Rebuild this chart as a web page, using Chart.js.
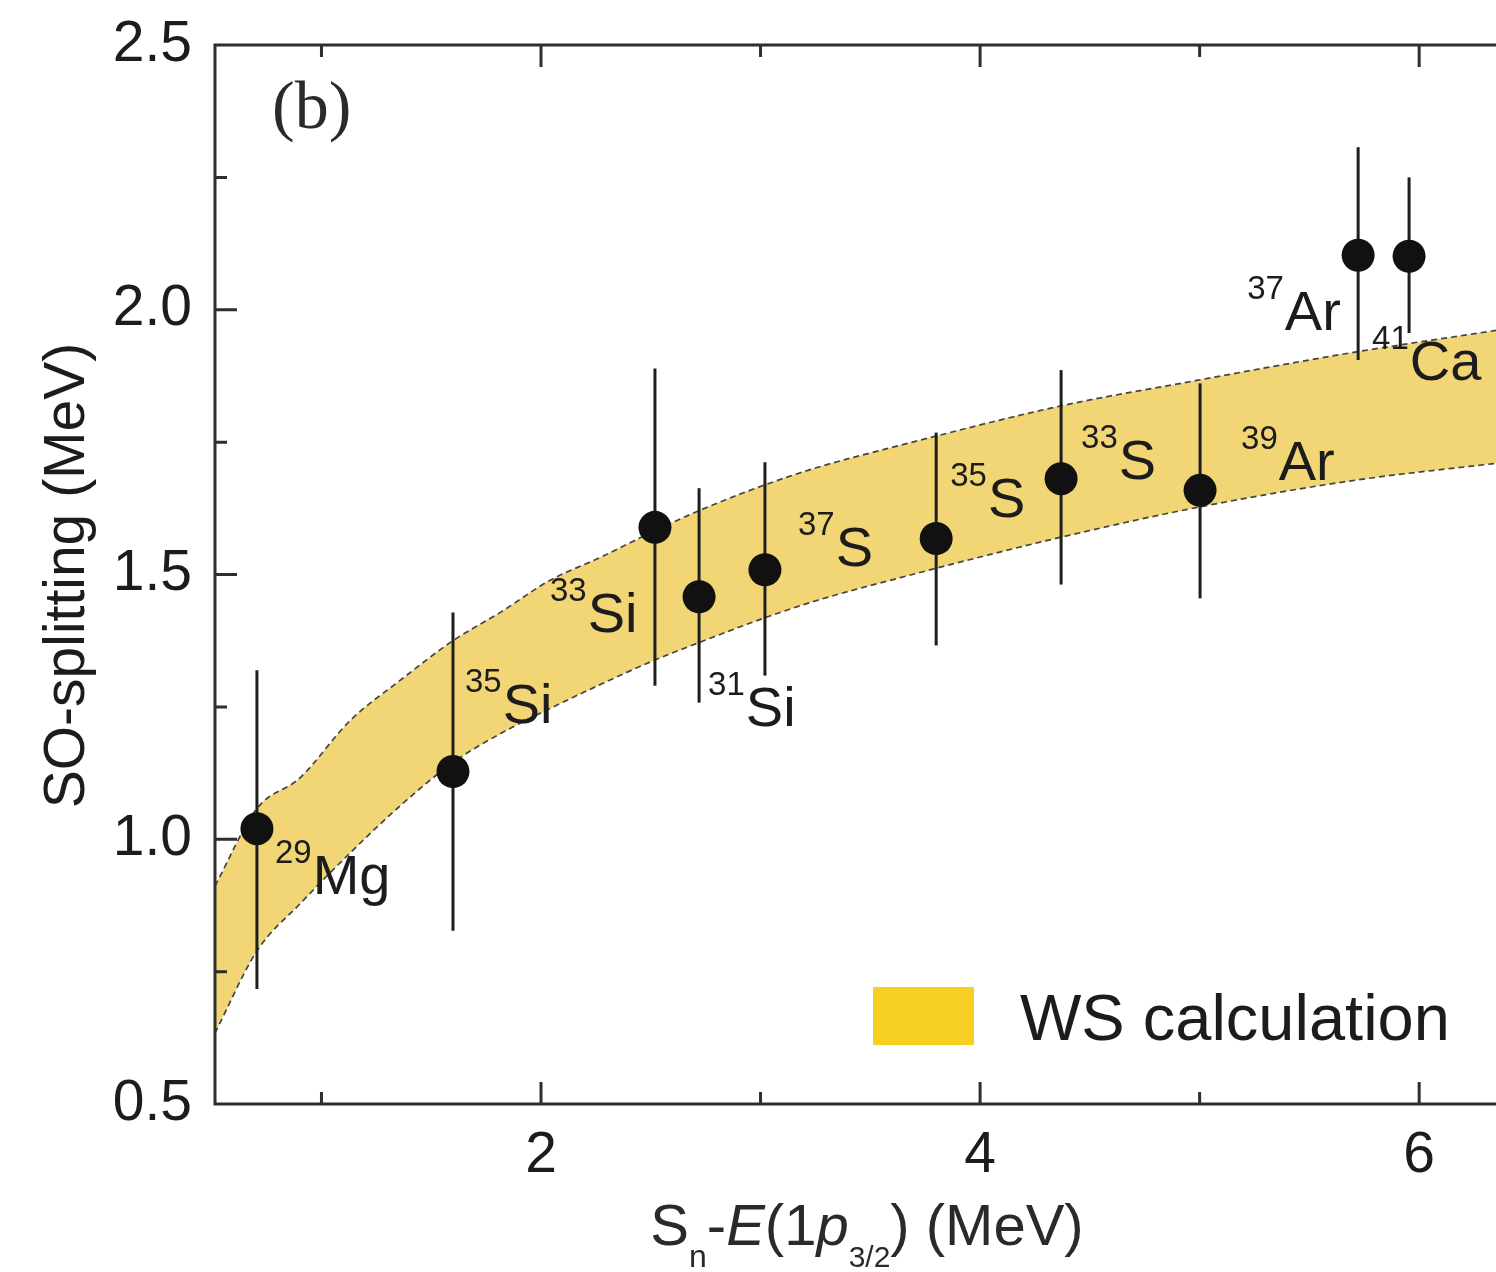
<!DOCTYPE html>
<html>
<head>
<meta charset="utf-8">
<script src="https://cdn.jsdelivr.net/npm/chart.js@4.4.1/dist/chart.umd.min.js"></script>
<style>
html,body{margin:0;padding:0;background:#ffffff;overflow:hidden;}
#wrap{width:1496px;height:1272px;position:relative;}
</style>
</head>
<body>
<div id="wrap"><canvas id="c" width="1496" height="1272"></canvas></div>
<script>
// ---------------- data ----------------
const isotopeMass    = ['29', '35', '33', '31', '37', '35', '33', '39', '37', '41'];
const isotopeElement = ['Mg', 'Si', 'Si', 'Si', 'S',  'S',  'S',  'Ar', 'Ar', 'Ca'];
const splitX   = [0.706, 1.599, 2.519, 2.720, 3.020, 3.800, 4.369, 5.002, 5.722, 5.954];
const splitY   = [1.020, 1.128, 1.589, 1.458, 1.509, 1.568, 1.681, 1.659, 2.103, 2.101];
const errLow   = [0.717, 0.827, 1.290, 1.258, 1.309, 1.366, 1.481, 1.455, 1.905, 1.956];
const errHigh  = [1.319, 1.428, 1.889, 1.663, 1.712, 1.768, 1.886, 1.861, 2.307, 2.250];

const wsX     = [0.515, 0.706, 0.902, 1.130, 1.358, 1.599, 1.813, 2.041, 2.269, 2.510, 2.711, 3.011, 3.257, 3.636, 4.364, 4.993, 5.708, 6.351];
const wsUpper = [0.912, 1.058, 1.116, 1.224, 1.300, 1.375, 1.428, 1.489, 1.532, 1.581, 1.619, 1.668, 1.702, 1.744, 1.818, 1.867, 1.920, 1.961];
const wsLower = [0.634, 0.789, 0.878, 0.974, 1.063, 1.145, 1.199, 1.247, 1.292, 1.337, 1.370, 1.417, 1.451, 1.494, 1.570, 1.627, 1.678, 1.710];

const xTickValues  = [2, 4, 6];
const xTickLabels  = ['2', '4', '6'];
const xMinorTicks  = [1, 3, 5];
const yTickValues  = [0.5, 1.0, 1.5, 2.0, 2.5];
const yTickLabels  = ['0.5', '1.0', '1.5', '2.0', '2.5'];
const yMinorTicks  = [0.75, 1.25, 1.75, 2.25];

const yTitle      = 'SO-splitting (MeV)';
const legendLabel = 'WS calculation';
const panelLabel  = '(b)';

// ---------------- layout / style (not data) ----------------
const FONT = '"Liberation Sans", Arial, Helvetica, sans-serif';
const SERIF = '"Liberation Serif", "Times New Roman", serif';
const TEXT = '#1c1c1c';
const AXIS = '#2e2e2e';
// label offsets (px) of superscript start / element baseline relative to point
const labelOffsets = [[18,65],[12,-48],[-105,105],[9,129],[33,-4],[14,-21],[20,0],[41,-10],[-111,75],[-37,124]];

const decorPlugin = {
  id: 'decor',
  beforeDatasetDraw(chart, args) {
    if (args.index !== 2) return;
    const {ctx, scales: {x, y}} = chart;
    ctx.save();
    ctx.strokeStyle = '#1e1e1e';
    ctx.lineWidth = 3;
    for (let i = 0; i < splitX.length; i++) {
      const px = x.getPixelForValue(splitX[i]);
      ctx.beginPath();
      ctx.moveTo(px, y.getPixelForValue(errHigh[i]));
      ctx.lineTo(px, y.getPixelForValue(errLow[i]));
      ctx.stroke();
    }
    ctx.restore();
  },
  afterDatasetsDraw(chart) {
    const {ctx, chartArea: ca, scales: {x, y}} = chart;
    ctx.save();
    // isotope labels
    ctx.fillStyle = TEXT;
    ctx.textBaseline = 'alphabetic';
    ctx.textAlign = 'left';
    for (let i = 0; i < splitX.length; i++) {
      const px = x.getPixelForValue(splitX[i]) + labelOffsets[i][0];
      const py = y.getPixelForValue(splitY[i]) + labelOffsets[i][1];
      ctx.font = '33px ' + FONT;
      ctx.fillText(isotopeMass[i], px, py - 31);
      const w = ctx.measureText(isotopeMass[i]).width;
      ctx.font = '56px ' + FONT;
      ctx.fillText(isotopeElement[i], px + w + 1, py);
    }
    // axes frame
    ctx.strokeStyle = AXIS;
    ctx.lineWidth = 3;
    ctx.beginPath();
    ctx.moveTo(ca.left, ca.top); ctx.lineTo(ca.right + 5, ca.top);
    ctx.moveTo(ca.left, ca.top - 1.5); ctx.lineTo(ca.left, ca.bottom + 1.5);
    ctx.moveTo(ca.left, ca.bottom); ctx.lineTo(ca.right + 5, ca.bottom);
    // x ticks (bottom and top, inward)
    xTickValues.forEach(v => { const p = x.getPixelForValue(v);
      ctx.moveTo(p, ca.bottom); ctx.lineTo(p, ca.bottom - 22);
      ctx.moveTo(p, ca.top); ctx.lineTo(p, ca.top + 22); });
    xMinorTicks.forEach(v => { const p = x.getPixelForValue(v);
      ctx.moveTo(p, ca.bottom); ctx.lineTo(p, ca.bottom - 12);
      ctx.moveTo(p, ca.top); ctx.lineTo(p, ca.top + 12); });
    yTickValues.forEach(v => { const p = y.getPixelForValue(v);
      ctx.moveTo(ca.left, p); ctx.lineTo(ca.left + 22, p); });
    yMinorTicks.forEach(v => { const p = y.getPixelForValue(v);
      ctx.moveTo(ca.left, p); ctx.lineTo(ca.left + 12, p); });
    ctx.stroke();

    // legend
    ctx.fillStyle = '#F7CE22';
    ctx.fillRect(ca.left + 658, ca.top + 942, 101, 58);
    ctx.fillStyle = TEXT;
    ctx.font = '65px ' + FONT;
    ctx.fillText(legendLabel, ca.left + 805, ca.top + 995);

    // panel label
    ctx.font = '68px ' + SERIF;
    ctx.fillStyle = '#2a2a2a';
    ctx.fillText(panelLabel, ca.left + 57, ca.top + 83);

    // y title
    ctx.save();
    ctx.translate(84, (ca.top + ca.bottom) / 2 + 1);
    ctx.rotate(-Math.PI / 2);
    ctx.textAlign = 'center';
    ctx.font = '57px ' + FONT;
    ctx.fillStyle = TEXT;
    ctx.fillText(yTitle, 0, 0);
    ctx.restore();

    // x title with sub/italics
    const parts = [
      {t: 'S', f: '58px ' + FONT, dy: 0},
      {t: 'n', f: '32px ' + FONT, dy: 22},
      {t: '-', f: '58px ' + FONT, dy: 0},
      {t: 'E', f: 'italic 58px ' + FONT, dy: 0},
      {t: '(1', f: '58px ' + FONT, dy: 0},
      {t: 'p', f: 'italic 58px ' + FONT, dy: 0},
      {t: '3/2', f: '30px ' + FONT, dy: 22},
      {t: ') (MeV)', f: '58px ' + FONT, dy: 0}
    ];
    let total = 0;
    parts.forEach(p => { ctx.font = p.f; p.w = ctx.measureText(p.t).width; total += p.w; });
    let cx = 867 - total / 2;
    const base = 1245;
    ctx.textAlign = 'left';
    parts.forEach(p => { ctx.font = p.f; ctx.fillText(p.t, cx, base + p.dy); cx += p.w; });
    ctx.restore();
  }
};

const ctx = document.getElementById('c').getContext('2d');
new Chart(ctx, {
  type: 'scatter',
  data: {
    datasets: [
      {
        type: 'line', label: 'WS upper',
        data: wsX.map((v, i) => ({x: v, y: wsUpper[i]})),
        borderColor: '#444444', borderWidth: 1.7, borderDash: [6, 4],
        pointRadius: 0, cubicInterpolationMode: 'monotone',
        fill: '+1', backgroundColor: '#F2D675', order: 3
      },
      {
        type: 'line', label: 'WS lower',
        data: wsX.map((v, i) => ({x: v, y: wsLower[i]})),
        borderColor: '#444444', borderWidth: 1.7, borderDash: [6, 4],
        pointRadius: 0, cubicInterpolationMode: 'monotone',
        fill: false, order: 2
      },
      {
        type: 'scatter', label: 'SO splitting',
        data: splitX.map((v, i) => ({x: v, y: splitY[i]})),
        pointRadius: 16.5, pointHoverRadius: 16.5,
        backgroundColor: '#111111', borderWidth: 0, order: 1
      }
    ]
  },
  options: {
    responsive: false, animation: false, devicePixelRatio: 1,
    layout: {autoPadding: false, padding: {top: 45, right: 0, left: 0, bottom: 0}},
    plugins: {legend: {display: false}, tooltip: {enabled: false}},
    scales: {
      x: {
        type: 'linear', min: 0.515, max: 6.35,
        afterBuildTicks: s => { s.ticks = xTickValues.map(v => ({value: v})); },
        afterFit: s => { s.height = 168; s.paddingLeft = 0; s.paddingRight = 0; },
        grid: {display: false, drawTicks: false},
        border: {display: false},
        ticks: {
          font: {family: FONT, size: 57}, color: TEXT, padding: 18,
          callback: v => xTickLabels[xTickValues.indexOf(v)]
        }
      },
      y: {
        type: 'linear', min: 0.5, max: 2.5,
        afterBuildTicks: s => { s.ticks = yTickValues.map(v => ({value: v})); },
        afterFit: s => { s.width = 215; s.paddingTop = 0; s.paddingBottom = 0; },
        grid: {display: false, drawTicks: false},
        border: {display: false},
        ticks: {
          font: {family: FONT, size: 57}, color: TEXT, padding: 23,
          callback: v => yTickLabels[yTickValues.indexOf(v)]
        }
      }
    }
  },
  plugins: [decorPlugin]
});
</script>
</body>
</html>
